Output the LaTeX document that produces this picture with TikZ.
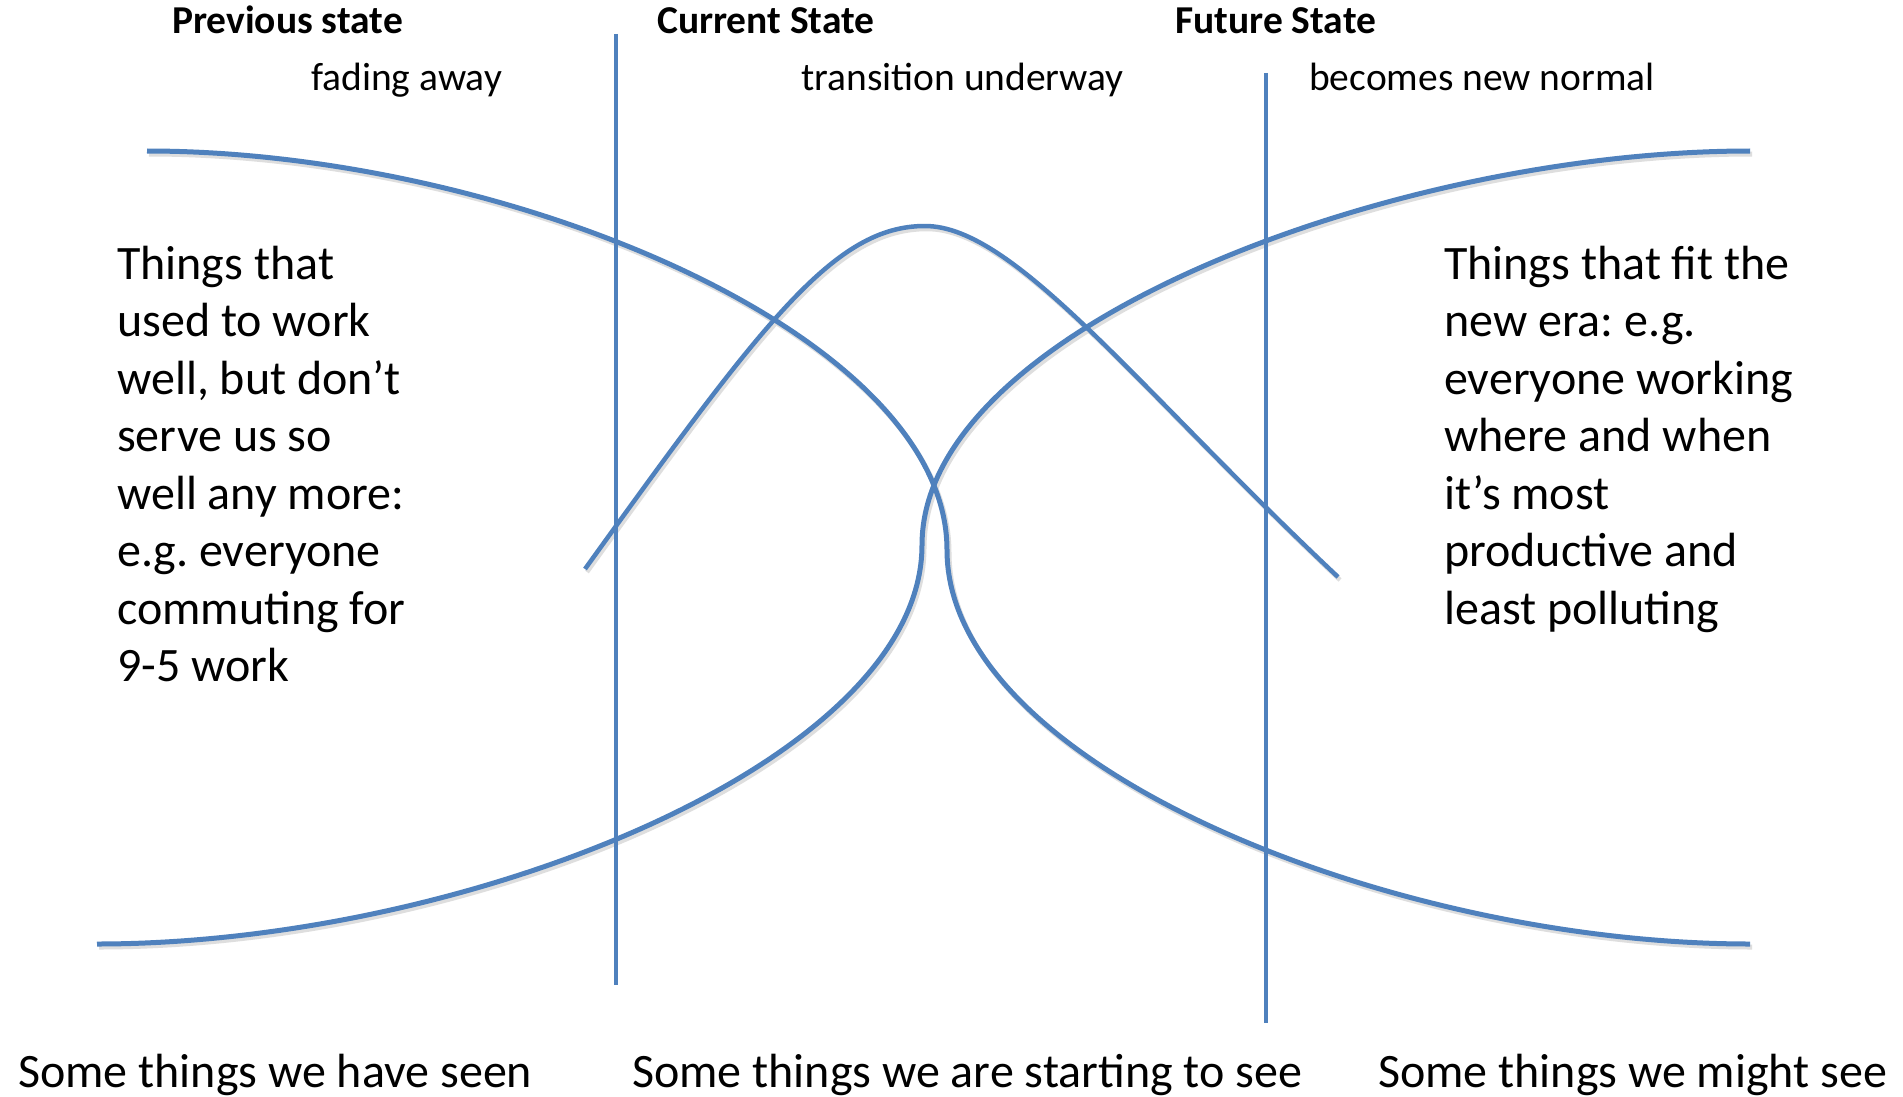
\documentclass[tikz,border=0pt]{standalone}
\usepackage{fontspec}
\setmainfont{Carlito}
\frenchspacing
\definecolor{lineblue}{HTML}{4F81BD}
\tikzset{
  scurve/.style={draw=lineblue, line width=5pt},
  bellcurve/.style={draw=lineblue, line width=4.5pt},
  divider/.style={draw=lineblue, line width=4.5pt},
  shadowline/.style={draw=black!13, line width=5pt},
  titletext/.style={anchor=base west, inner sep=0pt, font=\fontsize{39.5}{47}\selectfont\bfseries},
  subtext/.style={anchor=base west, inner sep=0pt, font=\fontsize{39.5}{47}\selectfont},
  bodytext/.style={anchor=base west, inner sep=0pt, font=\fontsize{48}{57.5}\selectfont},
}
\begin{document}
\begin{tikzpicture}[x=1pt,y=-1pt]
\useasboundingbox[fill=white] (0,0) rectangle (1903,1097);

% shadows
\begin{scope}[shift={(2,3)}]
\draw[shadowline] (147,151) .. controls (503,151) and (947,333) .. (947,550)
      .. controls (947,767) and (1394,944) .. (1750,944);
\draw[shadowline] (97,944) .. controls (464,944) and (922,762) .. (922,545)
      .. controls (922,328) and (1394,151) .. (1750,151);
\draw[shadowline, line width=4.5pt] (585,569) .. controls (765,319) and (835,226) .. (925,226)
      .. controls (1015,226) and (1138,389) .. (1338,577);
\end{scope}

% vertical dividers
\coordinate (d1top) at (616,34);
\coordinate (d1bot) at (616,985);
\coordinate (d2top) at (1266,73);
\coordinate (d2bot) at (1266,1023);
\draw[divider] (d1top) -- (d1bot);
\draw[divider] (d2top) -- (d2bot);

% curves
\draw[scurve] (147,151) .. controls (503,151) and (947,333) .. (947,550)
      .. controls (947,767) and (1394,944) .. (1750,944);
\draw[scurve] (97,944) .. controls (464,944) and (922,762) .. (922,545)
      .. controls (922,328) and (1394,151) .. (1750,151);
\draw[bellcurve] (585,569) .. controls (765,319) and (835,226) .. (925,226)
      .. controls (1015,226) and (1138,389) .. (1338,577);

% headings
\node[titletext] (prev) at (172,34) {Previous state};
\node[titletext] (curr) at (657,34) {Current State};
\node[titletext] (fut) at (1175,34) {Future State};
\node[subtext] (fade) at (311,91) {fading away};
\node[subtext] (trans) at (801,91) {transition underway};
\node[subtext] (norm) at (1309,91) {becomes new normal};

% body texts
\node[bodytext] (left) at (117,279) {\begin{tabular}[t]{@{}l@{}}Things that\\used to work\\well, but don’t\\serve us so\\well any more:\\e.g. everyone\\commuting for\\9-5 work\end{tabular}};
\node[bodytext] (right) at (1444,279) {\begin{tabular}[t]{@{}l@{}}Things that fit the\\new era: e.g.\\everyone working\\where and when\\it’s most\\productive and\\least polluting\end{tabular}};

% bottom texts
\node[bodytext] (seen) at (18,1087) {Some things we have seen};
\node[bodytext] (start) at (632,1087) {Some things we are starting to see};
\node[bodytext] (might) at (1378,1087) {Some things we might see};
\end{tikzpicture}
\end{document}
